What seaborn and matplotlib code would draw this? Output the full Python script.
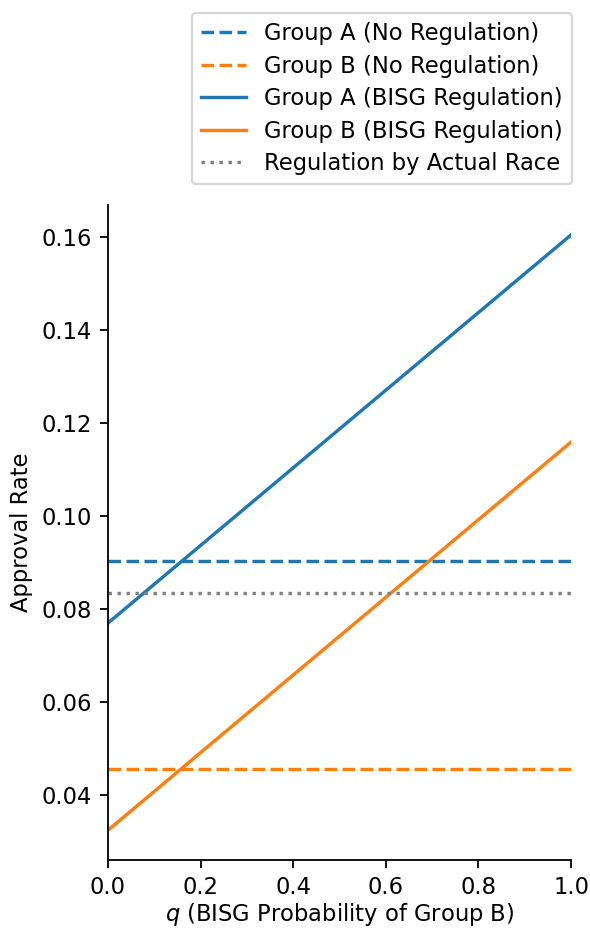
import matplotlib
matplotlib.use("Agg")
import matplotlib.pyplot as plt
import seaborn as sns
import pandas as pd

# data
q = [0.0, 1.0]
a_no_reg = [0.0903, 0.0903]
b_no_reg = [0.0457, 0.0457]
a_bisg = [0.0770, 0.1604]
b_bisg = [0.0325, 0.1159]
actual_race = [0.0834, 0.0834]

series = [
    ("Group A (No Regulation)", a_no_reg, "#1f77b4", "--"),
    ("Group B (No Regulation)", b_no_reg, "#ff7f0e", "--"),
    ("Group A (BISG Regulation)", a_bisg, "#1f77b4", "-"),
    ("Group B (BISG Regulation)", b_bisg, "#ff7f0e", "-"),
    ("Regulation by Actual Race", actual_race, "gray", ":"),
]

DPI = 163
fig = plt.figure(figsize=(590 / DPI, 928 / DPI), dpi=DPI)
ax = fig.add_axes([0.183, 0.0733, 0.785, 0.7057])

for label, vals, color, ls in series:
    df = pd.DataFrame({"q": q, "rate": vals})
    sns.lineplot(data=df, x="q", y="rate", ax=ax, color=color,
                 linestyle=ls, linewidth=1.5, label=label)

ax.set_xlim(0, 1)
ax.set_xlabel("$q$ (BISG Probability of Group B)", labelpad=1)
ax.set_ylabel("Approval Rate")
sns.despine(ax=ax)

ax.legend(loc="lower right", bbox_to_anchor=(1.002, 1.032),
          borderaxespad=0, labelspacing=0.42)

fig.savefig("out.png", dpi=DPI)
